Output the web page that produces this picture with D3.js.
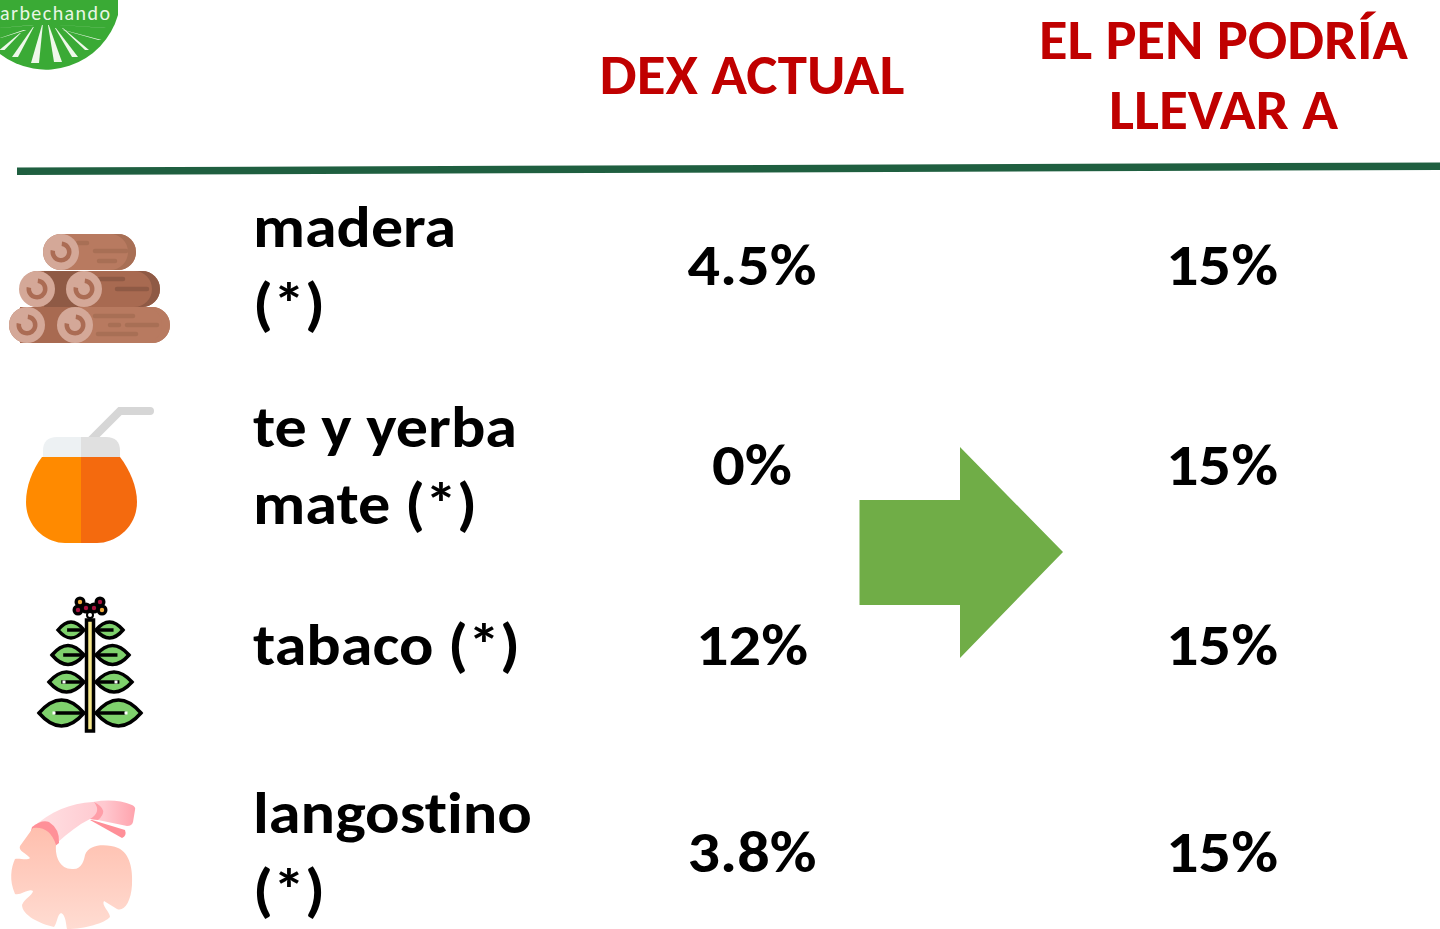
<!DOCTYPE html>
<html><head><meta charset="utf-8">
<script src="https://cdn.jsdelivr.net/npm/d3@7/dist/d3.min.js"></script>
<style>html,body{margin:0;background:#fff;overflow:hidden}svg{display:block}text{font-family:Carlito,Lato,"Open Sans",sans-serif;font-weight:700;font-variant-ligatures:none}</style>
</head><body><svg id="c" width="1440" height="929"></svg>
<script>
const products = ["madera", "te y yerba", "tabaco", "langostino"];
const productLines = [["madera", "(*)"], ["te y yerba", "mate (*)"], ["tabaco (*)"], ["langostino", "(*)"]];
const dexActual = ["4.5%", "0%", "12%", "3.8%"];
const penTarget = ["15%", "15%", "15%", "15%"];
const columnHeads = [["DEX ACTUAL"], ["EL PEN PODRÍA", "LLEVAR A"]];

const svg = d3.select("#c");
const rowY = d3.scaleOrdinal().domain(products).range([285, 485, 665, 872]);
const colX = d3.scaleOrdinal().domain(["dex", "pen"]).range([752, 1223.5]);
const lineStep = 77;
const fs = 58, hs = 56;

function tx(s, x, y, size, fill, anchor, target) {
  const t = svg.append("text").attr("x", x).attr("y", y).attr("font-size", size).attr("fill", fill).attr("text-anchor", anchor).text(s);
  if (target) t.attr("textLength", target).attr("lengthAdjust", "spacingAndGlyphs");
  return t;
}

// logo
const logo = svg.append("g");
logo.append("path").attr("d", "M0,54A75,75 0 0 0 118,15L118,0L0,0Z").attr("fill", "#3aaa35");
[[42,25,35,63,4],[48,25,58,62,4],[33,27,15,57,3],[55,28,75,57,3],[62,28,87,50,2],[20,33,2,50,2.5],[63,30,100,40,1.5],[60,25,105,28,1],[64,33,102,33,1],[0,28,33,25,1],[0,38,25,30,1.5]].forEach(([a,b,c,d,w]) => {
  logo.append("path").attr("d", `M${a},${b}L${a+0.8},${b}L${c+w},${d}L${c-w},${d}Z`).attr("fill", "#eef8ea");
});
logo.append("text").attr("x", 0).attr("y", 20).attr("font-size", 20).attr("fill", "#e9f6e6").style("font-weight", 400).attr("textLength", 110).text("arbechando");

// rule
svg.append("path").attr("d", "M17,167.5L1440,162.5L1440,170L17,175Z").attr("fill", "#1f5f40");

// headers
tx(columnHeads[0][0], colX("dex"), 94, hs, "#c00000", "middle", 305);
tx(columnHeads[1][0], colX("pen"), 59, hs, "#c00000", "middle", 369);
tx(columnHeads[1][1], colX("pen"), 129, hs, "#c00000", "middle", 229);

// rows
const nameWidths = [[203, 72], [264, 224], [267], [279, 72]];
const firstBase = [247, 447, 665, 833];
products.forEach((p, i) => {
  productLines[i].forEach((l, j) => tx(l, 253, firstBase[i] + j * lineStep, fs, "#000", "start", nameWidths[i][j]));
  tx(dexActual[i], colX("dex"), rowY(p), fs, "#000", "middle", [129, 80, 112, 129][i]);
  tx(penTarget[i], colX("pen") - 1.5, rowY(p), fs, "#000", "middle", 112);
});

// arrow
svg.append("path").attr("d", "M859.5,500H960V447L1063,552L960,658V605H859.5Z").attr("fill", "#70ad47");

// logs
const logs = svg.append("g");
function log(x0, x1, y0, color, end) {
  logs.append("rect").attr("x", x0).attr("y", y0).attr("width", x1 - x0).attr("height", 36).attr("rx", 18).attr("fill", color);
  logs.append("path").attr("d", `M${x1-18},${y0}A18,18 0 0 1 ${x1-18},${y0+36}L${x1-26},${y0+36}A18,18 0 0 0 ${x1-26},${y0}Z`).attr("fill", end);
}
function ring(cx, cy) {
  logs.append("circle").attr("cx", cx).attr("cy", cy).attr("r", 18).attr("fill", "#d4a898");
  logs.append("path").attr("d", d3.arc()({innerRadius: 6, outerRadius: 10.5, startAngle: 0.1, endAngle: 4.9})).attr("transform", `translate(${cx},${cy})`).attr("fill", "#ab6c54");
}
function dash(x0, x1, y, c) {
  logs.append("line").attr("x1", x0).attr("x2", x1).attr("y1", y).attr("y2", y).attr("stroke", c).attr("stroke-width", 4.5).attr("stroke-linecap", "round");
}
log(43, 136, 234, "#b87a60", "#a86f55");
log(20, 160, 271, "#a86a51", "#8f5a45");
logs.append("rect").attr("x", 44).attr("y", 271).attr("width", 34).attr("height", 36).attr("fill", "#8f5a45");
log(9, 170, 307, "#b87a60", "#b87a60");
logs.append("path").attr("d", "M20,307H75V343H20Z").attr("fill", "#a86a51");
dash(95, 126, 251, "#a86f55"); dash(99, 115, 261, "#a86f55"); dash(78, 87, 243, "#a86f55");
dash(100, 123, 279, "#8f5a45"); dash(117, 147, 289, "#8f5a45");
dash(95, 133, 316, "#a86f55"); dash(110, 119, 325, "#a86f55"); dash(127, 157, 325, "#a86f55"); dash(98, 136, 334, "#a86f55");
[[61,252],[37,289],[84,289],[27,325],[75,325]].forEach(c => ring(c[0], c[1]));

// mate
const mate = svg.append("g");
mate.append("path").attr("d", "M90,441L120,411H150").attr("fill", "none").attr("stroke", "#d6d6d6").attr("stroke-width", 8).attr("stroke-linecap", "round");
mate.append("path").attr("d", "M81,437H57Q43,437 43,451V457H81Z").attr("fill", "#edf1f3");
mate.append("path").attr("d", "M81,437H106Q120,437 120,451V457H81Z").attr("fill", "#e0e0e0");
mate.append("path").attr("d", "M81,457H42C32,470 26,487 26,502C26,527 46,543 65,543H81Z").attr("fill", "#ff8a00");
mate.append("path").attr("d", "M81,457H120C130,470 137,487 137,502C137,527 116,543 97,543H81Z").attr("fill", "#f46a0e");

// tobacco plant
const plant = svg.append("g");
function leaf(x0, x1, y, h) {
  const m = (x0 + x1) / 2, c = h * 2;
  plant.append("path").attr("d", `M${x0},${y}Q${m},${y-c} ${x1},${y}Q${m},${y+c} ${x0},${y}Z`).attr("fill", "#7fd16c").attr("stroke", "#000").attr("stroke-width", 3.5);
  const left = x0 < 90;
  const a = left ? x1 : x0, b = left ? x0 + (x1 - x0) * 0.35 : x1 - (x1 - x0) * 0.35;
  plant.append("line").attr("x1", a).attr("x2", b).attr("y1", y).attr("y2", y).attr("stroke", "#000").attr("stroke-width", 3.5);
}
[[58,84,630,8],[96,123,630,8],[52,84,655,9.5],[96,129,655,9.5],[49,84,682,10],[96,132,682,10],[39,84,713,13],[96,141,713,13]].forEach(l => leaf(...l));
plant.append("rect").attr("x", 86.5).attr("y", 620).attr("width", 7).attr("height", 111).attr("fill", "#f7e98c").attr("stroke", "#000").attr("stroke-width", 3.5);
[[64,682],[116,682],[54,713],[126,713]].forEach(([x,y]) => plant.append("rect").attr("x", x-1.5).attr("y", y-1.5).attr("width", 3).attr("height", 3).attr("fill", "#fff"));
const berries = [[80,602,"#f0a93b"],[100,602,"#a8123e"],[78,610,"#a8123e"],[86,608,"#a8123e"],[94,608,"#a8123e"],[102,610,"#f0a93b"]];
berries.forEach(([x,y]) => plant.append("circle").attr("cx", x).attr("cy", y).attr("r", 5.5).attr("fill", "#000"));
plant.append("circle").attr("cx", 90).attr("cy", 615).attr("r", 4).attr("fill", "#000");
plant.append("circle").attr("cx", 90).attr("cy", 615).attr("r", 2).attr("fill", "#fff");
berries.forEach(([x,y,c]) => plant.append("circle").attr("cx", x).attr("cy", y).attr("r", 2.2).attr("fill", c));

// shrimp
const defs = svg.append("defs");
const g1 = defs.append("linearGradient").attr("id", "sb").attr("x1", 0).attr("x2", 0).attr("y1", 0).attr("y2", 1);
g1.append("stop").attr("offset", 0).attr("stop-color", "#ffbfae"); g1.append("stop").attr("offset", 1).attr("stop-color", "#ffdcd2");
const g2 = defs.append("linearGradient").attr("id", "st");
g2.append("stop").attr("offset", 0).attr("stop-color", "#ffe2e4"); g2.append("stop").attr("offset", .7).attr("stop-color", "#ffc8cf"); g2.append("stop").attr("offset", 1).attr("stop-color", "#ffa3ad");
const sh = svg.append("g");
sh.append("path").attr("d", "M92,820L125,830Q127,836 122,838L90,820Z").attr("fill", "#ff8f98");
sh.append("path").attr("d", "M33,827C50,812 70,803 93,802Q115,798 132,805Q136,807 135,810L133,822Q132,826 127,826L98,820L90,819C78,825 68,833 58,842Z").attr("fill", "url(#st)");
sh.append("path").attr("d", "M94,802Q110,810 98,820L90,819Q102,812 94,802Z").attr("fill", "#ff9ea8");
sh.append("path").attr("d", "M32,827Q42,819 49,822Q60,829 59,843L50,850L30,835Z").attr("fill", "#ff9098");
sh.append("path").attr("d", "M33,828Q50,826 56,845C55,857 60,869 72,869C82,870 84,860 85,855C89,843 108,844 118,848C130,853 133,870 132,885C131,902 124,912 117,909L104,901C101,905 110,912 110,917C105,923 85,929 67,929C66,925 66,915 61,913C57,915 57,924 54,927C40,924 22,915 22,905C25,898 32,896 33,891C29,888 20,896 15,894C9,880 11,868 15,859C20,858 27,861 30,858C26,853 18,851 20,846Z").attr("fill", "url(#sb)");
</script></body></html>
